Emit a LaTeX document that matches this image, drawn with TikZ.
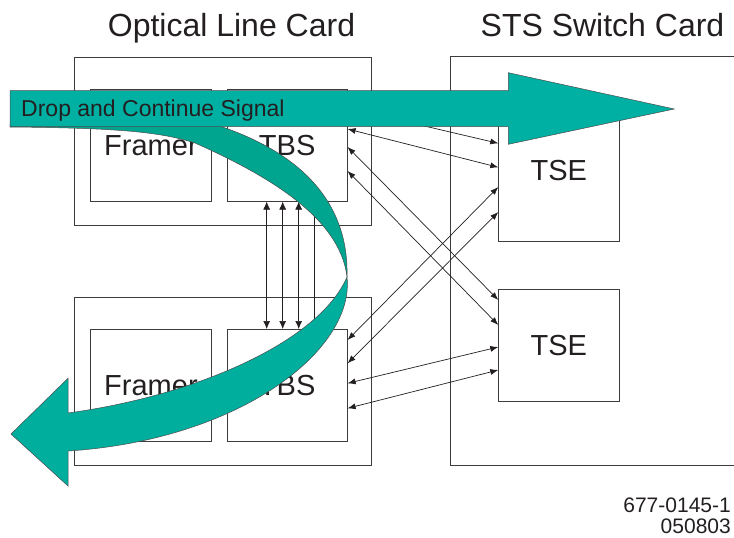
\documentclass[tikz,border=0pt]{standalone}
\usepackage{fontspec}
\setmainfont{Liberation Sans}
\usetikzlibrary{arrows.meta}
\definecolor{ink}{RGB}{35,31,32}
\definecolor{edge}{RGB}{60,60,60}
\definecolor{tealA}{RGB}{0,176,163}
\definecolor{tealB}{RGB}{0,165,143}
\definecolor{tealC}{RGB}{0,174,158}
\tikzset{
  box/.style={draw=edge, line width=0.9pt, rectangle, inner sep=0pt, anchor=north west, text=ink, font=\fontsize{29}{34}\selectfont},
  link/.style={draw=ink, line width=0.7pt, {Latex[length=8pt,width=6pt]}-{Latex[length=8pt,width=6pt]}},
  vlink/.style={draw=ink, line width=0.7pt, {Latex[length=8pt,width=7pt]}-{Latex[length=8pt,width=7pt]}},
  heading/.style={text=ink, font=\fontsize{32}{38}\selectfont, anchor=base, inner sep=0pt},
  boxlabel/.style={text=ink, font=\fontsize{29}{34}\selectfont},
  band/.style={draw=black!70, line width=0.5pt},
}
\begin{document}
\begin{tikzpicture}[x=1pt, y=-1pt]
\useasboundingbox (0,0) rectangle (734,538);
% headings
\node[heading] (hOLC) at (231.5,36) {Optical Line Card};
\node[heading] (hSTS) at (602.5,36) {STS Switch Card};
% optical line cards
\node[box, minimum width=296.7pt, minimum height=168pt] (olcT) at (74,56.7) {};
\node[box, minimum width=120.4pt, minimum height=111.4pt] (frT) at (90.3,89.3) {};
\node[box, minimum width=120pt, minimum height=111.4pt] (tbsT) at (226.7,89.3) {};
\node[box, minimum width=296.7pt, minimum height=168.3pt] (olcB) at (74,296.7) {};
\node[box, minimum width=120.4pt, minimum height=112.3pt] (frB) at (90.3,329) {};
\node[box, minimum width=120pt, minimum height=112.3pt] (tbsB) at (226.7,329) {};
\node[boxlabel] (frTl) at (frT.center) {Framer};
\node[boxlabel] (tbsTl) at (tbsT.center) {TBS};
\node[boxlabel] (frBl) at (frB.center) {Framer};
\node[boxlabel] (tbsBl) at (tbsB.center) {TBS};
% STS switch card (open at the right)
\coordinate (stsTR) at (734,56.7);
\coordinate (stsBR) at (734,465);
\draw[draw=edge, line width=0.9pt] (stsTR) -- (450.7,56.7) -- (450.7,465) -- (stsBR);
\node[box, minimum width=120.2pt, minimum height=142pt] (tseT) at (498.3,99) {};
\node[box, minimum width=120.2pt, minimum height=112pt] (tseB) at (498.3,289) {};
\node[boxlabel] (tseTl) at (tseT.center) {TSE};
\node[boxlabel] (tseBl) at (tseB.center) {TSE};
% vertical links between TBS blocks
\foreach \xx in {266.7,282.7,298.7,314.7}{
  \draw[vlink] (tbsT.south -| \xx,0) -- (tbsB.north -| \xx,0);
}
% TBS <-> TSE links
\draw[link] (tbsT.east |- 0,108) -- (tseT.west |- 0,143.3);
\draw[link] (tbsT.east |- 0,129) -- (tseT.west |- 0,167.3);
\draw[link] (tbsT.east |- 0,147) -- (tseB.west |- 0,300);
\draw[link] (tbsT.east |- 0,171) -- (tseB.west |- 0,325);
\draw[link] (tbsB.east |- 0,340) -- (tseT.west |- 0,187);
\draw[link] (tbsB.east |- 0,363.3) -- (tseT.west |- 0,212);
\draw[link] (tbsB.east |- 0,383.3) -- (tseB.west |- 0,347);
\draw[link] (tbsB.east |- 0,408.3) -- (tseB.west |- 0,370);
% curved drop arrow
\fill[tealB, band] (12,98) .. controls (250,100) and (350,170) .. (347,277)
   .. controls (340,215) and (260,172) .. (195,143)
   .. controls (160,132) and (120,128) .. (10,127) -- cycle;
\fill[tealC, band] (347,277) .. controls (320,340) and (200,395) .. (68,413)
   -- (68,378.3) -- (11,434) -- (68,486) -- (68,451)
   .. controls (240,440) and (355,350) .. (347,277) -- cycle;
% straight continue arrow
\fill[tealA, band] (10,90.5) -- (508.3,90.5) -- (508.3,72.7) -- (674.3,109)
   -- (508.3,144.3) -- (508.3,126.7) -- (10,126.7) -- cycle;
\node[text=ink, font=\fontsize{23}{28}\selectfont, anchor=base west, inner sep=0pt] (sig) at (21,116.7) {Drop and Continue Signal};
% figure id
\node[text=ink, font=\fontsize{21}{25}\selectfont, anchor=base east, inner sep=0pt] (id1) at (731,512) {677-0145-1};
\node[text=ink, font=\fontsize{21}{25}\selectfont, anchor=base east, inner sep=0pt] (id2) at (731,533) {050803};
\end{tikzpicture}
\end{document}
